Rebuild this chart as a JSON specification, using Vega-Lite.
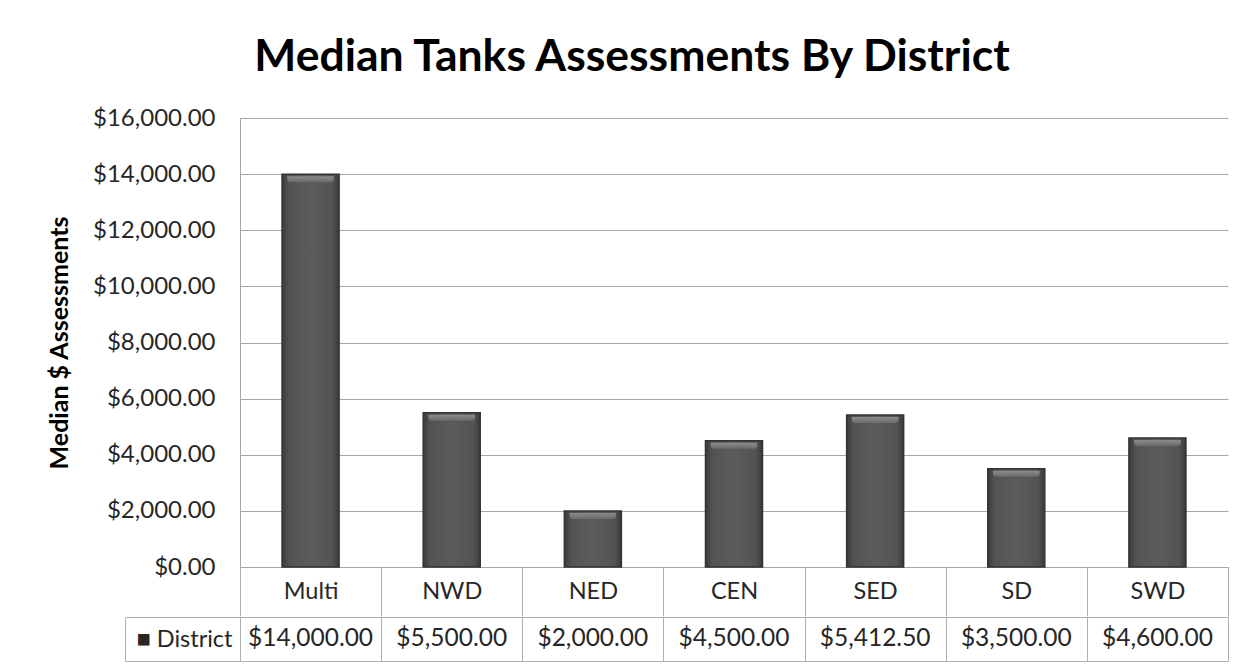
{
  "$schema": "https://vega.github.io/schema/vega-lite/v6.json",
  "background": "white",
  "padding": {"left": 47, "top": 34, "right": 25, "bottom": 10},
  "title": {
    "text": "Median Tanks Assessments By District",
    "font": "Lato",
    "fontSize": 44.5,
    "fontWeight": "bold",
    "color": "#000000",
    "anchor": "middle",
    "dx": -6,
    "offset": 26
  },
  "data": {
    "values": [
      {"district": "Multi", "value": 14000, "series": "District"},
      {"district": "NWD", "value": 5500, "series": "District"},
      {"district": "NED", "value": 2000, "series": "District"},
      {"district": "CEN", "value": 4500, "series": "District"},
      {"district": "SED", "value": 5412.5, "series": "District"},
      {"district": "SD", "value": 3500, "series": "District"},
      {"district": "SWD", "value": 4600, "series": "District"}
    ]
  },
  "spacing": -14,
  "vconcat": [
    {
      "width": 988,
      "height": 449,
      "view": {"stroke": null},
      "encoding": {
        "x": {
          "field": "district",
          "type": "nominal",
          "sort": null,
          "scale": {"paddingInner": 0, "paddingOuter": 0},
          "axis": {
            "title": null,
            "labelAngle": 0,
            "tickBand": "extent",
            "tickSize": 49,
            "tickColor": "#b0b0b0",
            "domainColor": "#a6a6a6",
            "labelPadding": -25,
            "labelBaseline": "middle",
            "labelFont": "Lato",
            "labelFontSize": 23.5,
            "labelColor": "#262626"
          }
        },
        "y": {
          "field": "value",
          "type": "quantitative",
          "scale": {"domain": [0, 16000]},
          "axis": {
            "title": "Median $ Assessments",
            "values": [0, 2000, 4000, 6000, 8000, 10000, 12000, 14000, 16000],
            "format": "$,.2f",
            "grid": true,
            "gridColor": "#a6a6a6",
            "ticks": false,
            "domainColor": "#a6a6a6",
            "labelPadding": 25,
            "labelFont": "Lato",
            "labelFontSize": 24,
            "labelColor": "#262626",
            "titleFont": "Lato",
            "titleFontSize": 25,
            "titleFontWeight": "bold",
            "titleColor": "#000000",
            "titlePadding": 20
          }
        }
      },
      "layer": [
        {
          "mark": {
            "type": "bar",
            "width": {"band": 0.404},
            "fill": {
              "gradient": "linear",
              "x1": 0, "y1": 0, "x2": 1, "y2": 0,
              "stops": [
                {"offset": 0, "color": "#3a3a3a"},
                {"offset": 0.12, "color": "#535353"},
                {"offset": 0.5, "color": "#5c5c5c"},
                {"offset": 0.88, "color": "#535353"},
                {"offset": 1, "color": "#3a3a3a"}
              ]
            },
            "stroke": "#333333",
            "strokeWidth": 1.5
          }
        },
        {
          "mark": {
            "type": "bar",
            "width": {"band": 0.33},
            "fill": {
              "gradient": "linear",
              "x1": 0, "y1": 0, "x2": 0, "y2": 1,
              "stops": [
                {"offset": 0, "color": "#8c8c8c"},
                {"offset": 1, "color": "#6a6a6a"}
              ]
            },
            "yOffset": 2,
            "y2Offset": 8,
            "cornerRadiusBottomLeft": 3,
            "cornerRadiusBottomRight": 3
          },
          "encoding": {
            "y2": {"field": "value"}
          }
        }
      ]
    },
    {
      "width": 988,
      "height": 44,
      "view": {"stroke": "#b0b0b0"},
      "mark": {"type": "text", "font": "Lato", "fontSize": 24.5, "color": "#262626"},
      "encoding": {
        "x": {
          "field": "district",
          "type": "nominal",
          "sort": null,
          "scale": {"paddingInner": 0, "paddingOuter": 0},
          "axis": {
            "title": null,
            "labels": false,
            "ticks": false,
            "domain": false,
            "grid": true,
            "tickBand": "extent",
            "gridColor": "#b0b0b0"
          }
        },
        "y": {
          "field": "series",
          "type": "nominal",
          "axis": {
            "title": null,
            "offset": 115,
            "domainColor": "#b0b0b0",
            "tickSize": -115,
            "tickBand": "extent",
            "tickColor": "#b0b0b0",
            "labelExpr": "datum.label ? '■ ' + datum.label : ''",
            "labelPadding": 8,
            "labelFont": "Lato",
            "labelFontSize": 23.5,
            "labelColor": "#262626"
          }
        },
        "text": {"field": "value", "type": "quantitative", "format": "$,.2f"}
      }
    }
  ]
}
